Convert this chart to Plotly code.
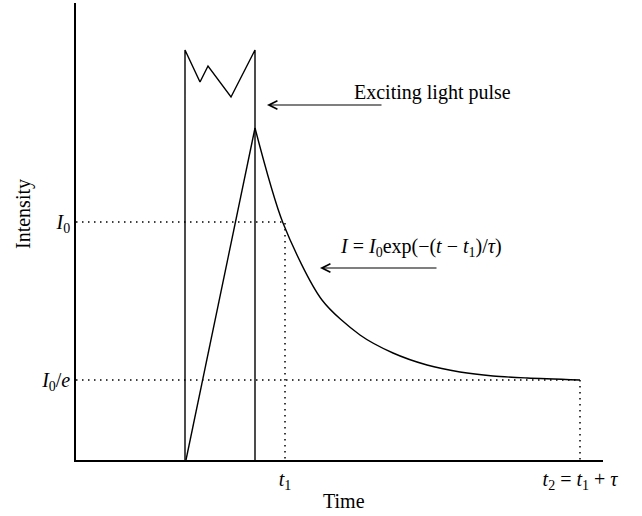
import plotly.graph_objects as go

# Data (time / intensity in arbitrary units)
pulse_t = [109, 109, 124, 132, 155, 179, 179]
pulse_i = [0, 410, 378, 394, 363, 410, 0]

rise_t = [110, 179]
rise_i = [0, 332]

decay_t = [179, 207, 246, 284, 317, 351, 384, 417, 451, 504]
decay_i = [332, 237, 160, 125, 107, 95, 88, 84, 82, 80]

t1 = 209
t2 = 504
I0 = 238
I0e = 80

x_tick_vals = [t1, t2]
x_tick_text = ['<i>t</i><sub>1</sub>', '<i>t</i><sub>2</sub> = <i>t</i><sub>1</sub> + <i>τ</i>']
y_tick_vals = [I0e, I0]
y_tick_text = ['<i>I</i><sub>0</sub>/<i>e</i>', '<i>I</i><sub>0</sub>']

FONT = "Liberation Serif, Times New Roman, serif"
FS = 20
LINE = dict(color="black", width=1.4)
DOT = dict(color="black", width=1.5, dash="1.5px,4.5px")

fig = go.Figure()
fig.add_trace(go.Scatter(x=[0, t1, t1], y=[I0, I0, 0], mode="lines", line=DOT))
fig.add_trace(go.Scatter(x=[0, t2, t2], y=[I0e, I0e, 0], mode="lines", line=DOT))
fig.add_trace(go.Scatter(x=pulse_t, y=pulse_i, mode="lines", line=LINE))
fig.add_trace(go.Scatter(x=rise_t, y=rise_i, mode="lines", line=LINE))
fig.add_trace(go.Scatter(x=decay_t, y=decay_i, mode="lines", line=dict(color="black", width=1.4, shape="spline", smoothing=0.8)))

annotations = [
    dict(x=191, y=355, ax=307, ay=355, axref="x", ayref="y", xref="x", yref="y",
         text="", showarrow=True, arrowhead=5, arrowsize=1.4, arrowwidth=1.2, arrowcolor="black"),
    dict(x=244, y=192, ax=362, ay=192, axref="x", ayref="y", xref="x", yref="y",
         text="", showarrow=True, arrowhead=5, arrowsize=1.4, arrowwidth=1.2, arrowcolor="black"),
    dict(x=276, y=368, xref="x", yref="y", text="Exciting light pulse", showarrow=False,
         xanchor="left", yanchor="middle", font=dict(family=FONT, size=FS, color="black")),
    dict(x=262, y=213, xref="x", yref="y",
         text="<i>I</i> = <i>I</i><sub>0</sub>exp(−(<i>t</i> − <i>t</i><sub>1</sub>)/<i>τ</i>)",
         showarrow=False, xanchor="left", yanchor="middle", font=dict(family=FONT, size=FS, color="black")),
    dict(x=344, y=501, xref="paper", yref="paper", text="Time", showarrow=False,
         xanchor="center", yanchor="middle", font=dict(family=FONT, size=FS, color="black")),
    dict(x=23, y=214, xref="paper", yref="paper", text="Intensity", showarrow=False, textangle=-90,
         xanchor="center", yanchor="middle", font=dict(family=FONT, size=FS, color="black")),
]
# convert pixel-positioned titles to paper coords
W, H = 642, 516
L, R, T, B = 76, 39, 3, 56
for a in annotations[4:]:
    px, py = a["x"], a["y"]
    a["x"] = (px - L) / (W - L - R)
    a["y"] = (H - B - py) / (H - T - B)

fig.update_layout(
    width=W, height=H,
    margin=dict(l=L, r=R, t=T, b=B),
    plot_bgcolor="white", paper_bgcolor="white",
    showlegend=False,
    annotations=annotations,
    font=dict(family=FONT, size=FS, color="black"),
    xaxis=dict(range=[0, 527], showgrid=False, zeroline=False, showline=True, linecolor="black",
               linewidth=1.5, ticks="", tickvals=x_tick_vals, ticktext=x_tick_text,
               tickfont=dict(family=FONT, size=FS, color="black")),
    yaxis=dict(range=[0, 457], showgrid=False, zeroline=False, showline=True, linecolor="black",
               linewidth=1.5, ticks="", tickvals=y_tick_vals, ticktext=y_tick_text,
               tickfont=dict(family=FONT, size=FS, color="black")),
)

fig.write_html("out.html", config={"displayModeBar": False},
               post_script="document.body.style.margin='0';")
